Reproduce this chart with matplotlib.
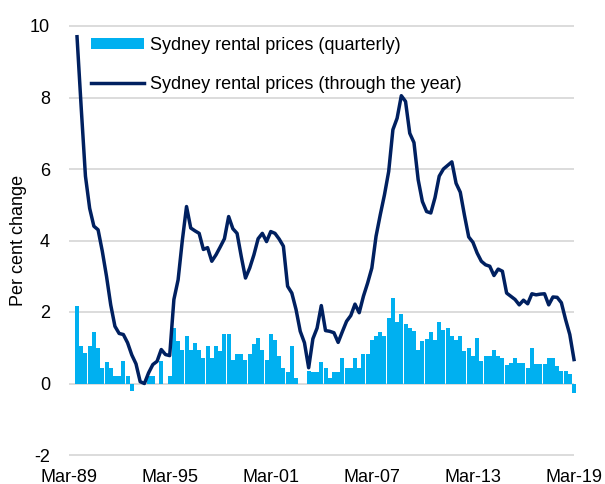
import numpy as np
import pandas as pd
import matplotlib
matplotlib.use("Agg")
import matplotlib.pyplot as plt

plt.rcParams['font.family'] = ['Liberation Sans', 'DejaVu Sans']
plt.rcParams['axes.unicode_minus'] = False

# quarterly data, Sep-89 .. Mar-19
quarters = pd.period_range("1989Q3", "2019Q1", freq="Q")

# through the year change (%)
annual = [
    9.7, 7.7, 5.8, 4.9, 4.4, 4.3, 3.7, 3.0, 2.2, 1.6,
    1.4, 1.37, 1.14, 0.8, 0.55, 0.05, 0.0, 0.3, 0.53, 0.62,
    0.95, 0.81, 0.78, 2.35, 2.9, 4.0, 4.95, 4.35, 4.27, 4.2,
    3.75, 3.8, 3.42, 3.6, 3.82, 4.05, 4.67, 4.33, 4.2, 3.55,
    2.95, 3.23, 3.6, 4.05, 4.2, 3.97, 4.25, 4.2, 4.04, 3.84,
    2.72, 2.53, 2.07, 1.46, 1.14, 0.44, 1.25, 1.55, 2.18, 1.48,
    1.46, 1.42, 1.15, 1.45, 1.74, 1.9, 2.22, 1.98, 2.44, 2.81,
    3.23, 4.12, 4.72, 5.28, 5.93, 7.1, 7.42, 8.05, 7.89, 7.0,
    6.74, 5.7, 5.09, 4.81, 4.77, 5.2, 5.8, 6.0, 6.1, 6.2,
    5.6, 5.35, 4.7, 4.1, 3.95, 3.65, 3.42, 3.32, 3.28, 3.02,
    3.2, 3.14, 2.53, 2.44, 2.35, 2.2, 2.33, 2.23, 2.51, 2.48,
    2.5, 2.51, 2.2, 2.42, 2.41, 2.26, 1.79, 1.37, 0.67,
]

# quarterly change (%)
quarterly = [
    2.18, 1.04, 0.86, 1.04, 1.44, 1.0, 0.44, 0.6, 0.44, 0.22,
    0.22, 0.62, 0.22, -0.2, 0, 0, 0, 0.22, 0.22, 0,
    0.62, 0, 0.22, 1.55, 1.18, 0.95, 1.32, 0.95, 1.13, 0.95,
    0.72, 1.04, 0.72, 1.04, 0.9, 1.39, 1.39, 0.67, 0.83, 0.83,
    0.67, 0.83, 1.1, 1.28, 0.95, 0.67, 1.39, 1.23, 0.76, 0.44,
    0.32, 1.04, 0.16, 0, 0, 0.35, 0.32, 0.32, 0.6, 0.44,
    0.16, 0.32, 0.32, 0.72, 0.44, 0.44, 0.72, 0.44, 0.83, 0.83,
    1.21, 1.32, 1.44, 1.32, 1.83, 2.39, 1.71, 1.95, 1.67, 1.55,
    1.48, 0.93, 1.18, 1.25, 1.44, 1.23, 1.71, 1.5, 1.55, 1.34,
    1.23, 1.32, 0.9, 1.0, 0.78, 1.28, 0.62, 0.78, 0.78, 0.95,
    0.78, 0.72, 0.53, 0.58, 0.72, 0.58, 0.58, 0.44, 1.0, 0.55,
    0.55, 0.55, 0.72, 0.72, 0.5, 0.35, 0.35, 0.27, -0.26,
]

tick_years = [1989, 1995, 2001, 2007, 2013, 2019]
tick_labels = ["Mar-89", "Mar-95", "Mar-01", "Mar-07", "Mar-13", "Mar-19"]
y_ticks = [-2, 0, 2, 4, 6, 8, 10]

# x = quarters since Mar-89
x = np.array([(q.year - 1989) * 4 + (q.quarter - 1) for q in quarters])
tick_pos = [(y - 1989) * 4 for y in tick_years]

fig = plt.figure(figsize=(6.05, 4.84), dpi=100)
ax = fig.add_axes([68.6 / 605, 29 / 484, (574 - 68.6) / 605, (455 - 26) / 484])

ax.hlines(y_ticks, 0, 120, colors="#d9d9d9", linewidth=1.3, zorder=0, clip_on=False)

bars = ax.bar(x, quarterly, width=0.95, color="#00b0f0", linewidth=0, zorder=2,
              clip_on=False)
line, = ax.plot(x, annual, color="#002060", linewidth=2.5, zorder=3, clip_on=False,
                solid_joinstyle="round")

ax.set_xlim(0, 120)
ax.set_ylim(-2, 10)
ax.set_yticks(y_ticks)
ax.set_xticks(tick_pos)
ax.set_xticklabels(tick_labels)
ax.tick_params(axis="both", length=0, labelsize=13, colors="black")
ax.tick_params(axis="y", pad=13.4)
ax.tick_params(axis="x", pad=10)
for s in ax.spines.values():
    s.set_visible(False)

fig.text(19 / 605, 1 - 240 / 484, "Per cent change", rotation=90,
         ha="center", va="center", fontsize=13)

ax.legend([bars, line],
          ["Sydney rental prices (quarterly)", "Sydney rental prices (through the year)"],
          loc="upper left", bbox_to_anchor=(91 / 605, 1 - 37 / 484),
          bbox_transform=fig.transFigure, frameon=False, fontsize=13,
          borderpad=0, borderaxespad=0, handlelength=2.95, handleheight=0.55,
          handletextpad=0.33, labelspacing=1.23)

fig.savefig("out.png", dpi=100)
